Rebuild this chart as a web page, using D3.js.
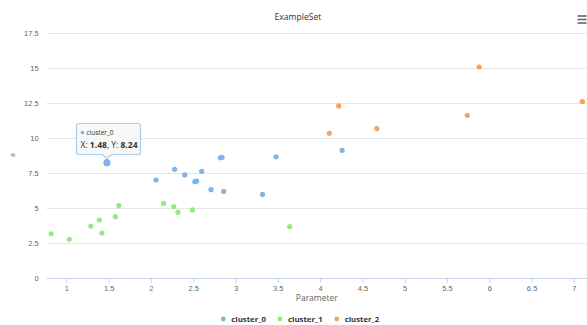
<!DOCTYPE html>
<html><head><meta charset="utf-8">
<script src="https://cdn.jsdelivr.net/npm/d3@7/dist/d3.min.js"></script>
<style>
body{margin:0;background:#fff;}
svg{display:block;font-family:"Open Sans","DejaVu Sans",sans-serif;}
</style></head>
<body>
<svg id="c" width="587" height="325"></svg>
<script>
const title = "ExampleSet";
const xTitle = "Parameter";
const yTitle = "a";
const seriesNames = ["cluster_0", "cluster_1", "cluster_2"];
const seriesColors = ["#7cb5ec", "#90ed7d", "#f7a35c"];
const xTicks = [1, 1.5, 2, 2.5, 3, 3.5, 4, 4.5, 5, 5.5, 6, 6.5, 7];
const yTicks = [0, 2.5, 5, 7.5, 10, 12.5, 15, 17.5];
const cluster0 = [[1.48,8.24],[2.06,7.0],[2.28,7.76],[2.40,7.36],[2.52,6.88],[2.54,6.92],[2.60,7.62],[2.71,6.31],[2.86,6.19],[2.82,8.59],[2.84,8.61],[3.48,8.66],[3.32,5.98],[4.26,9.12]];
const cluster1 = [[0.82,3.16],[1.035,2.76],[1.29,3.71],[1.39,4.14],[1.42,3.21],[1.58,4.38],[1.62,5.17],[2.15,5.33],[2.27,5.10],[2.32,4.69],[2.49,4.86],[3.64,3.67]];
const cluster2 = [[4.11,10.34],[4.22,12.29],[4.67,10.67],[5.74,11.62],[5.88,15.07],[7.10,12.6]];
const series = [cluster0, cluster1, cluster2];
const hovered = {series:0, index:0};

const svg = d3.select("#c");
const x = d3.scaleLinear().domain([0.768, 7.155]).range([46.7, 587]);
const y = d3.scaleLinear().domain([0, 17.5]).range([278, 33]);

const yAxis = d3.axisLeft(y).tickValues(yTicks).tickSize(-(587-46.7)).tickFormat(d => d3.format("~g")(d));
const gy = svg.append("g").attr("transform","translate(46.7,0)").call(yAxis);
gy.select(".domain").remove();
gy.selectAll(".tick line").attr("stroke","#e6e6e6");
gy.selectAll(".tick text").attr("x",-8).attr("fill","#666").attr("font-size","7.5px");
gy.selectAll(".tick").filter(d=>d===0).select("line").remove();

const xAxis = d3.axisBottom(x).tickValues(xTicks).tickSize(5).tickFormat(d => d3.format("~g")(d));
const gx = svg.append("g").attr("transform","translate(0,278)").call(xAxis);
gx.select(".domain").attr("stroke","#ccd6eb").attr("d","M46.7,0.5H587");
gx.selectAll(".tick line").attr("stroke","#ccd6eb");
gx.selectAll(".tick text").attr("y",8).attr("fill","#666").attr("font-size","7.5px");

svg.append("text").attr("x",316.8).attr("y",301).attr("text-anchor","middle")
  .attr("fill","#666").attr("font-size","8.5px").text(xTitle);
svg.append("text").attr("transform","translate(15,155) rotate(-90)").attr("text-anchor","middle")
  .attr("fill","#666").attr("font-size","7px").text(yTitle);

svg.append("text").attr("x",298).attr("y",20).attr("text-anchor","middle")
  .attr("fill","#333").attr("font-size","8.6px").text(title);

const menu = svg.append("g");
[16,19.5,23].forEach(yy => menu.append("rect").attr("x",577.5).attr("y",yy-0.8).attr("width",9).attr("height",1.6).attr("fill","#666"));

series.forEach((s, si) => {
  svg.append("g").selectAll("circle").data(s).join("circle")
    .attr("cx", d => x(d[0])).attr("cy", d => y(d[1]))
    .attr("r", (d,i) => (si===hovered.series && i===hovered.index) ? 3.6 : 2.6)
    .attr("fill", seriesColors[si]);
});

const hp = series[hovered.series][hovered.index];
const tx = x(hp[0]), ty = y(hp[1]);
const bw = 64, bh = 31;
const bx = 76.5, by = 123.5;
const tip = svg.append("g");
tip.append("path")
  .attr("d", `M${bx+2},${by} H${bx+bw-2} Q${bx+bw},${by} ${bx+bw},${by+2} V${by+bh-2} Q${bx+bw},${by+bh} ${bx+bw-2},${by+bh} H${tx+5} L${tx},${ty-4.5} L${tx-5},${by+bh} H${bx+2} Q${bx},${by+bh} ${bx},${by+bh-2} V${by+2} Q${bx},${by} ${bx+2},${by} Z`)
  .attr("fill","rgba(247,247,247,0.85)").attr("stroke","#a9cdef").attr("stroke-width",1.2);
tip.append("circle").attr("cx",bx+6).attr("cy",by+9).attr("r",1.8).attr("fill",seriesColors[hovered.series]);
tip.append("text").attr("x",bx+10).attr("y",by+11.5).attr("font-size","6.5px").attr("fill","#333").text(seriesNames[hovered.series]);
const t2 = tip.append("text").attr("x",bx+4).attr("y",by+24).attr("font-size","8.5px").attr("fill","#333");
t2.append("tspan").text("X: ");
t2.append("tspan").attr("font-weight","bold").text(hp[0].toFixed(2));
t2.append("tspan").text(", Y: ");
t2.append("tspan").attr("font-weight","bold").text(hp[1].toFixed(2));

const legendX = [223.3, 280, 336.7];
const lg = svg.append("g");
seriesNames.forEach((n, i) => {
  lg.append("circle").attr("cx",legendX[i]).attr("cy",319).attr("r",2.4).attr("fill",seriesColors[i]);
  lg.append("text").attr("x",legendX[i]+8).attr("y",322).attr("font-size","7.8px").attr("font-weight","bold").attr("fill","#333").text(n);
});
</script>
</body></html>
